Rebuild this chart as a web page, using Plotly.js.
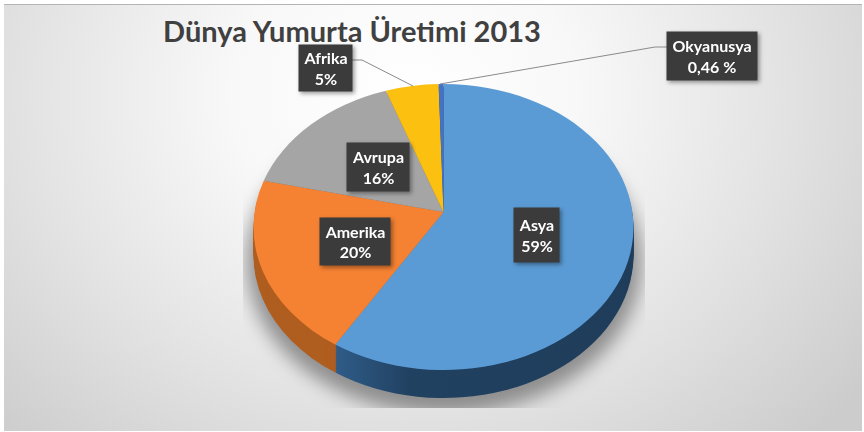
<!DOCTYPE html>
<html><head><meta charset="utf-8">
<script src="https://cdn.plot.ly/plotly-3.0.1.min.js"></script>
<style>
html,body{margin:0;padding:0;background:#fff;width:864px;height:432px;overflow:hidden}
#bg{position:absolute;left:4px;top:4px;width:858px;height:427px;border-top:1px solid #b4b4b4;box-sizing:border-box;
background:radial-gradient(ellipse 580px 480px at 400px 90px,#ffffff 0%,#f8f8f8 30%,#e3e3e3 65%,#cccccc 100%)}
#shclip{position:absolute;left:243px;top:120px;width:402px;height:288px;overflow:hidden}
#sh{position:absolute;left:3px;top:-12px;width:396px;height:306px;border-radius:50%;background:rgba(0,0,0,.38);filter:blur(9px)}
#chart{position:absolute;left:0;top:0;width:864px;height:432px}
</style></head><body>
<div id="bg"></div><div id="shclip"><div id="sh"></div></div>
<div id="chart"></div>
<script>
var categories=["Asya","Amerika","Avrupa","Afrika","Okyanusya"];
var shares=[59,20,16,5,0.46];
var topColors=["#5b9bd5","#f58233","#a5a5a5","#fcc010","#4472c4"];
var sideColors=["#214161","#af5e20","#6e6e6e","#a88010","#2b4a80"];
var labelTexts=["<b>Asya</b><br><b>59%</b>","<b>Amerika</b><br><b>20%</b>","<b>Avrupa</b><br><b>16%</b>","<b>Afrika</b><br><b>5%</b>","<b>Okyanusya</b><br><b>0,46 %</b>"];
var labelBoxes=[[514,208,45,54],[320,218,70,47],[347,143,62,48],[299,45,53,46],[667,32,90,48]];
var titleText="Dünya Yumurta Üretimi 2013";
var W=864,H=432,cx=443.5,cy=227,rY=143,rX=190,persp=0.105;
var depthSteps=[28,26,24,22,20,18,16,14,12,10,8,6,4,2];
function pie(dy,colors){
  return {type:"pie",labels:categories,values:shares,sort:false,direction:"clockwise",rotation:0,
    textinfo:"none",hoverinfo:"none",showlegend:false,
    marker:{colors:colors,line:{width:0}},
    domain:{x:[(cx-rY)/W,(cx+rY)/W],y:[(H-cy-dy-rY)/H,(H-cy-dy+rY)/H]}};
}
var traces=depthSteps.map(function(d){return pie(d,sideColors);});
traces.push(pie(0,topColors));
var annotations=labelBoxes.map(function(b,i){return {
  xref:"paper",yref:"paper",x:(b[0]+b[2]/2)/W,y:1-(b[1]+b[3]/2)/H,xanchor:"center",yanchor:"middle",
  text:labelTexts[i],showarrow:false,width:b[2],height:b[3],bgcolor:"#3b3b3b",borderpad:0,
  font:{family:"Lato, 'Open Sans', sans-serif",size:16,color:"#ffffff"},align:"center"};});
function px(x,y){return (x/W)+","+(1-y/H);}
var shapes=[
 {type:"path",xref:"paper",yref:"paper",path:"M"+px(352,60)+"L"+px(362,60)+"L"+px(413,86),line:{color:"#8a8a8a",width:1}},
 {type:"path",xref:"paper",yref:"paper",path:"M"+px(667,47)+"L"+px(655,47)+"L"+px(440,84),line:{color:"#8a8a8a",width:1}}
];
var layout={width:W,height:H,margin:{l:0,r:0,t:0,b:0},paper_bgcolor:"rgba(0,0,0,0)",plot_bgcolor:"rgba(0,0,0,0)",
 showlegend:false,hovermode:false,
 title:{text:"<b>"+titleText+"</b>",x:352/W,xanchor:"center",y:1-32/H,yanchor:"middle",
   font:{family:"Lato, 'Open Sans', sans-serif",size:29,color:"#404040"}},
 annotations:annotations,shapes:shapes};
// perspective: the pie's circle seen from above, its centre lies behind the ellipse's centre
function project(sx,sy,r){
  var u=sx/r,v=-sy/r,w=1+persp*v,a=Math.sqrt(1-persp*persp);
  return [r*a*u/w,-r*(v+persp)/w];
}
Plotly.newPlot("chart",traces,layout,{displayModeBar:false,staticPlot:true}).then(function(){
  var layer=document.querySelector(".pielayer");
  var s=rX/rY;
  layer.setAttribute("transform","translate("+cx+",0) scale("+s+",1) translate("+(-cx)+",0)");
  var svg=document.querySelector(".main-svg");
  var ns="http://www.w3.org/2000/svg";
  var defs=document.createElementNS(ns,"defs");
  var g=document.createElementNS(ns,"linearGradient");g.setAttribute("id","sideBlue");
  [[0,"#2f5c88"],[0.25,"#214161"],[1,"#1f3d5a"]].forEach(function(c){
    var st=document.createElementNS(ns,"stop");st.setAttribute("offset",c[0]);st.setAttribute("stop-color",c[1]);g.appendChild(st);});
  defs.appendChild(g);svg.appendChild(defs);
  var tr=layer.querySelectorAll(".trace");
  tr.forEach(function(t,ti){
    t.querySelectorAll("path.surface").forEach(function(p,pi){
      var d=p.getAttribute("d");
      var m=d.match(/^M([-\d.e]+),([-\d.e]+)l([-\d.e]+),([-\d.e]+)a([-\d.e]+),[-\d.e]+\s+0\s+\d\s+\d\s+([-\d.e]+),([-\d.e]+)/);
      if(!m)return;
      var x0=+m[1],y0=+m[2],sx=+m[3],sy=+m[4],r=+m[5],ex=sx+(+m[6]),ey=sy+(+m[7]);
      var a=project(sx,sy,r),b=project(ex,ey,r);
      var a0=Math.atan2(a[0],-a[1]),a1=Math.atan2(b[0],-b[1]);
      var da=a1-a0;while(da<0)da+=2*Math.PI;
      p.setAttribute("d","M"+x0+","+(y0-persp*r)+"L"+(x0+a[0])+","+(y0+a[1])+"A"+r+","+r+" 0 "+(da>Math.PI?1:0)+" 1 "+(x0+b[0])+","+(y0+b[1])+"Z");
      if(ti<tr.length-1&&pi===0)p.style.fill="url(#sideBlue)";
    });
  });
  document.querySelectorAll(".annotation").forEach(function(a){a.style.filter="drop-shadow(2px 2px 2px rgba(0,0,0,.4))";});
});
</script></body></html>
